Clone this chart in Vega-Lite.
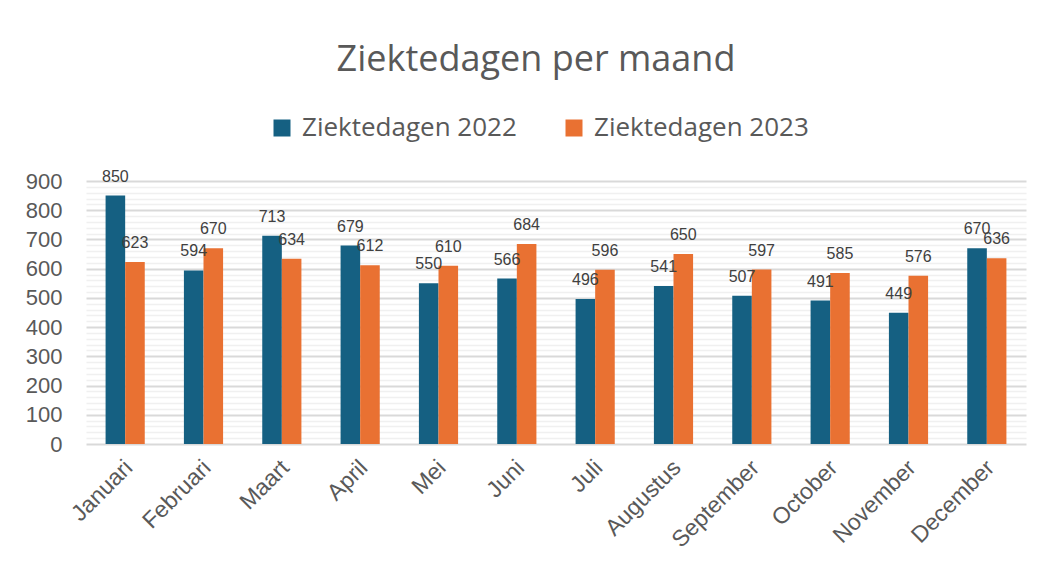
{
  "$schema": "https://vega.github.io/schema/vega-lite/v6.json",
  "width": 940,
  "height": 263,
  "autosize": {"type": "none"},
  "padding": {"left": 86, "top": 181, "right": 28, "bottom": 131},
  "background": "white",
  "title": {
    "text": "Ziektedagen per maand",
    "font": "Open Sans",
    "fontSize": 36,
    "fontWeight": "normal",
    "color": "#595959",
    "anchor": "middle",
    "dx": -20,
    "offset": 36
  },
  "data": {
    "values": [
      {"maand": "Januari", "reeks": "Ziektedagen 2022", "dagen": 850},
      {"maand": "Januari", "reeks": "Ziektedagen 2023", "dagen": 623},
      {"maand": "Februari", "reeks": "Ziektedagen 2022", "dagen": 594},
      {"maand": "Februari", "reeks": "Ziektedagen 2023", "dagen": 670},
      {"maand": "Maart", "reeks": "Ziektedagen 2022", "dagen": 713},
      {"maand": "Maart", "reeks": "Ziektedagen 2023", "dagen": 634},
      {"maand": "April", "reeks": "Ziektedagen 2022", "dagen": 679},
      {"maand": "April", "reeks": "Ziektedagen 2023", "dagen": 612},
      {"maand": "Mei", "reeks": "Ziektedagen 2022", "dagen": 550},
      {"maand": "Mei", "reeks": "Ziektedagen 2023", "dagen": 610},
      {"maand": "Juni", "reeks": "Ziektedagen 2022", "dagen": 566},
      {"maand": "Juni", "reeks": "Ziektedagen 2023", "dagen": 684},
      {"maand": "Juli", "reeks": "Ziektedagen 2022", "dagen": 496},
      {"maand": "Juli", "reeks": "Ziektedagen 2023", "dagen": 596},
      {"maand": "Augustus", "reeks": "Ziektedagen 2022", "dagen": 541},
      {"maand": "Augustus", "reeks": "Ziektedagen 2023", "dagen": 650},
      {"maand": "September", "reeks": "Ziektedagen 2022", "dagen": 507},
      {"maand": "September", "reeks": "Ziektedagen 2023", "dagen": 597},
      {"maand": "October", "reeks": "Ziektedagen 2022", "dagen": 491},
      {"maand": "October", "reeks": "Ziektedagen 2023", "dagen": 585},
      {"maand": "November", "reeks": "Ziektedagen 2022", "dagen": 449},
      {"maand": "November", "reeks": "Ziektedagen 2023", "dagen": 576},
      {"maand": "December", "reeks": "Ziektedagen 2022", "dagen": 670},
      {"maand": "December", "reeks": "Ziektedagen 2023", "dagen": 636}
    ]
  },
  "encoding": {
    "x": {
      "field": "maand",
      "type": "nominal",
      "sort": null,
      "scale": {"paddingInner": 0.5, "paddingOuter": 0.25},
      "axis": {
        "title": null,
        "labelAngle": -45,
        "labelFont": "Liberation Sans",
        "labelFontSize": 23,
        "labelColor": "#595959",
        "labelPadding": 12,
        "labelOffset": -4,
        "ticks": false,
        "domain": false,
        "grid": false
      }
    },
    "xOffset": {"field": "reeks", "type": "nominal"},
    "y": {
      "field": "dagen",
      "type": "quantitative",
      "scale": {"domain": [0, 900], "nice": false},
      "axis": {
        "title": null,
        "values": [0, 20, 40, 60, 80, 100, 120, 140, 160, 180, 200, 220, 240, 260, 280, 300, 320, 340, 360, 380, 400, 420, 440, 460, 480, 500, 520, 540, 560, 580, 600, 620, 640, 660, 680, 700, 720, 740, 760, 780, 800, 820, 840, 860, 880, 900],
        "labelExpr": "datum.value % 100 === 0 ? datum.label : ''",
        "labelFont": "Liberation Sans",
        "labelFontSize": 22,
        "labelColor": "#595959",
        "labelPadding": 24,
        "ticks": false,
        "domain": false,
        "grid": true,
        "gridColor": {"condition": {"test": "datum.value % 100 === 0", "value": "#d9d9d9"}, "value": "#f0f0f0"},
        "gridWidth": {"condition": {"test": "datum.value % 100 === 0", "value": 2}, "value": 1.5}
      }
    }
  },
  "layer": [
    {
      "mark": {"type": "bar"},
      "encoding": {
        "color": {
          "field": "reeks",
          "type": "nominal",
          "scale": {"domain": ["Ziektedagen 2022", "Ziektedagen 2023"], "range": ["#156082", "#E97132"]},
          "legend": {
            "title": null,
            "orient": "none",
            "direction": "horizontal",
            "legendX": 183,
            "legendY": -66,
            "symbolType": "square",
            "symbolSize": 289,
            "symbolStrokeWidth": 0,
            "labelFont": "Open Sans",
            "labelFontSize": 26,
            "labelColor": "#595959",
            "labelOffset": 7,
            "labelLimit": 400,
            "columnPadding": 44
          }
        }
      }
    },
    {
      "mark": {"type": "text", "baseline": "bottom", "dy": -11, "font": "Liberation Sans", "fontSize": 16, "color": "#404040"},
      "encoding": {
        "text": {"field": "dagen", "type": "quantitative"}
      }
    }
  ],
  "config": {
    "view": {"stroke": null}
  }
}
